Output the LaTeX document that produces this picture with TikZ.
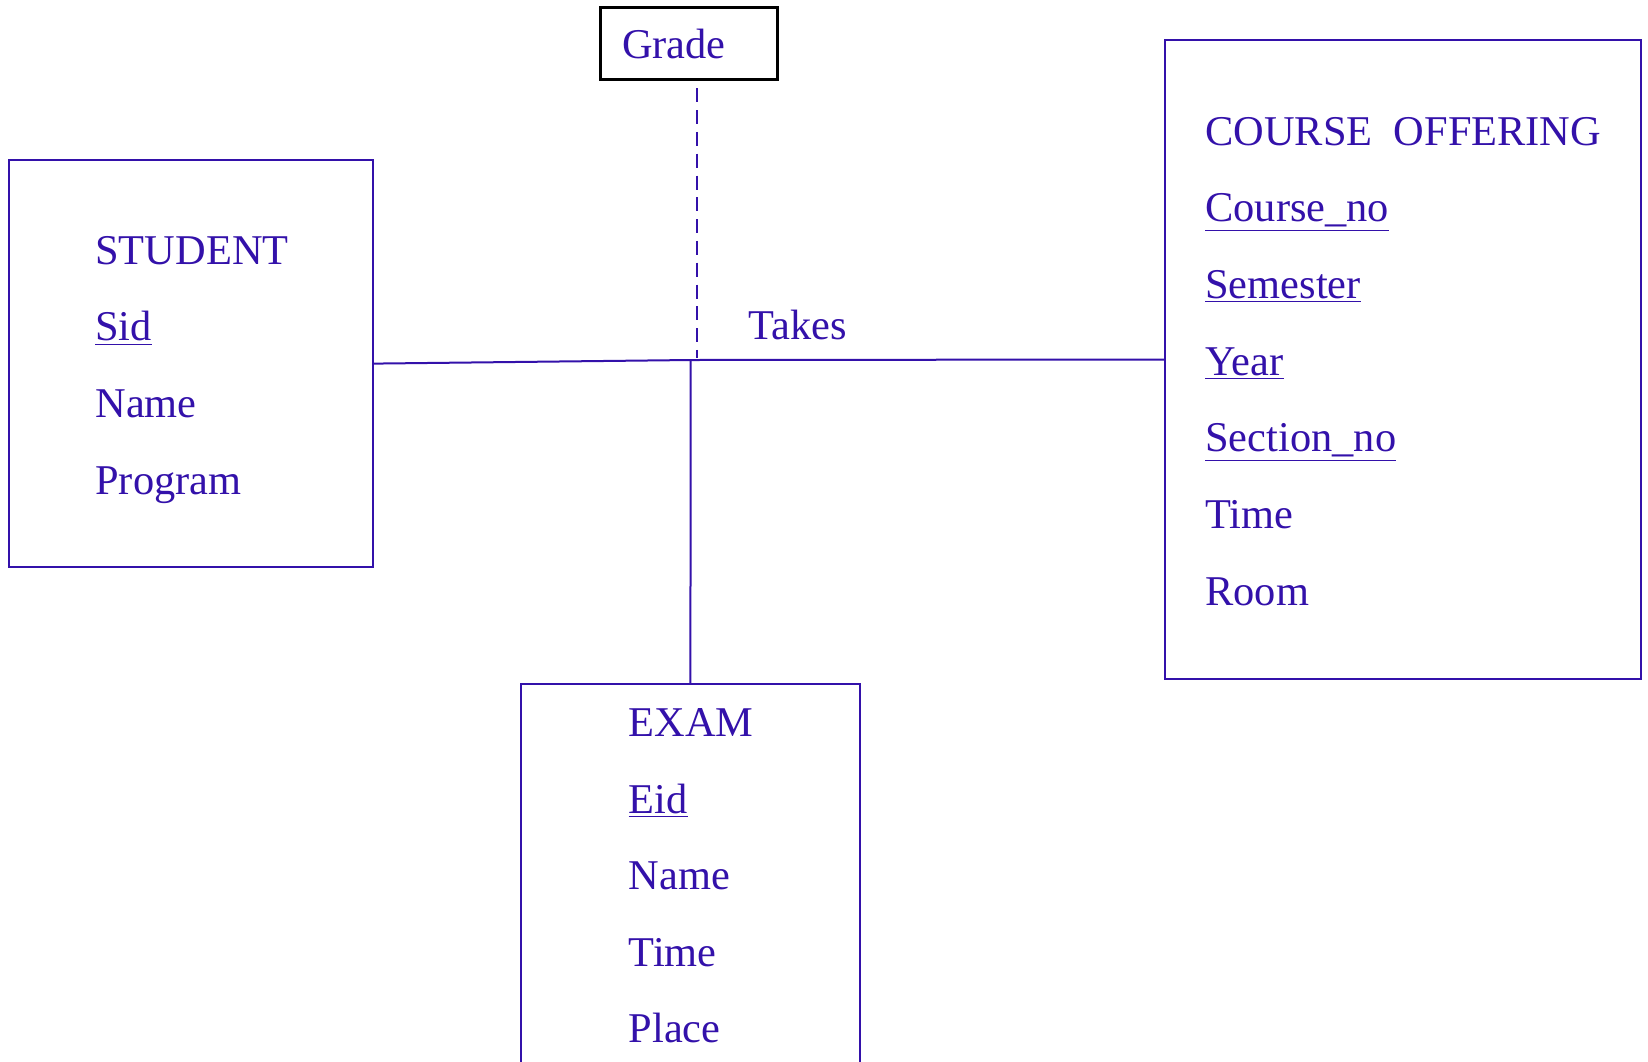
\documentclass[tikz,border=0pt]{standalone}
\usepackage{fontspec}
\setmainfont{Liberation Serif}
\usetikzlibrary{positioning}
\definecolor{erblue}{RGB}{51,17,170}

\begin{document}
\begin{tikzpicture}[x=0.5pt, y=-0.5pt,
	entity/.style={draw=erblue, line width=1pt, inner sep=0pt},
	attr/.style={text=erblue, font=\fontsize{21.2}{26}\selectfont, inner sep=0pt, anchor=base west},
	link/.style={draw=erblue, line width=1pt}]

	\clip (0,0) rectangle (1648,1061);
	\fill[white] (0,0) rectangle (1648,1061);

	% entity boxes
	\node[entity, minimum width=182pt, minimum height=203.6pt] (student) at (190.8,363.6) {};
	\node[entity, minimum width=237.8pt, minimum height=319.5pt] (course) at (1402.8,359.5) {};
	\node[entity, minimum width=169.6pt, minimum height=203pt] (exam) at (690.4,887.2) {};
	\node[draw=black, line width=1.4pt, inner sep=0pt, minimum width=88.2pt, minimum height=35.9pt] (grade) at (688.9,43.2) {};

	% attributes
	\foreach \t [count=\i from 0] in {STUDENT, {\underline{Sid}}, Name, Program}
		\node[attr] (stu\i) at (95,264+76.7*\i) {\t};
	\foreach \t [count=\i from 0] in {{COURSE\hspace{0.5em}OFFERING}, {\underline{Course\_no}}, {\underline{Semester}},
		{\underline{Year}}, {\underline{Section\_no}}, Time, Room}
		\node[attr] (crs\i) at (1205,145+76.7*\i) {\t};
	\foreach \t [count=\i from 0] in {EXAM, {\underline{Eid}}, Name, Time, Place}
		\node[attr] (exm\i) at (628.3,736.7+76.5*\i) {\t};

	\node[attr] (gradetxt) at (621.7,58.3) {Grade};
	\node[attr] (takes) at (748.3,339.3) {Takes};

	% relationship
	\coordinate (hub) at (690.7,360);
	\coordinate (gradetop) at (696.7,88.3);
	\coordinate (gradefoot) at (696.7,358);

	\draw[link] (student.east) -- (hub) -- (course.west);
	\draw[link] (hub) -- (exam.north);
	\draw[link, dash pattern=on 7pt off 3.9pt] (gradetop) -- (gradefoot);

\end{tikzpicture}
\end{document}
